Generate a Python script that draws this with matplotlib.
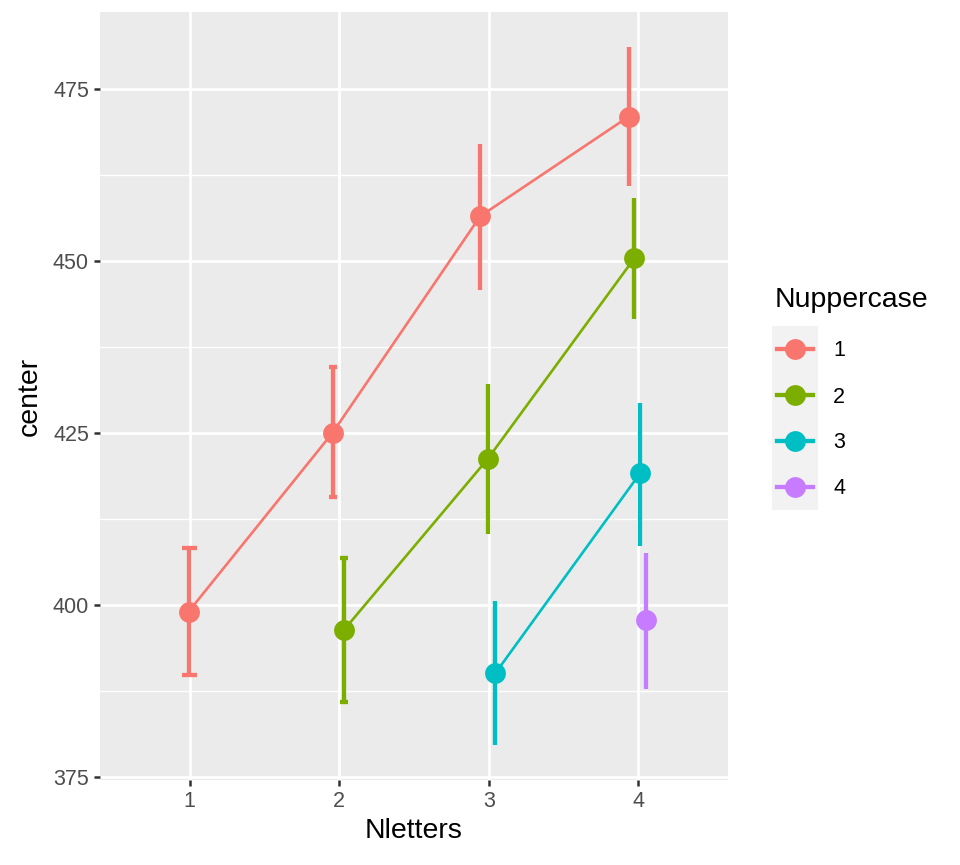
import matplotlib.pyplot as plt
from matplotlib.lines import Line2D

plt.switch_backend("AGG")
plt.rcParams["font.family"] = ["Liberation Sans", "DejaVu Sans"]

# data
nletters = [1, 2, 3, 4]
groups = ["1", "2", "3", "4"]
colors = ["#F8766D", "#7CAE00", "#00BFC4", "#C77CFF"]

series_x = {
    "1": [1, 2, 3, 4],
    "2": [2, 3, 4],
    "3": [3, 4],
    "4": [4],
}
series_center = {
    "1": [399.0, 425.0, 456.5, 471.0],
    "2": [396.3, 421.2, 450.4],
    "3": [390.0, 419.1],
    "4": [397.7],
}
series_low = {
    "1": [389.8, 415.6, 445.8, 460.9],
    "2": [385.8, 410.3, 441.5],
    "3": [379.6, 408.5],
    "4": [387.8],
}
series_high = {
    "1": [408.2, 434.5, 467.0, 481.1],
    "2": [406.8, 432.1, 459.1],
    "3": [400.5, 429.4],
    "4": [407.5],
}

DODGE = 0.15
GRID_BG = "#EBEBEB"


def dodge_offsets():
    # ggplot-like dodge: groups present at each x share the dodge width
    present = {x: [g for g in groups if x in series_x[g]] for x in nletters}
    out = {}
    for g in groups:
        offs = []
        for x in series_x[g]:
            n = len(present[x])
            i = present[x].index(g)
            offs.append((i - (n - 1) / 2) * DODGE / n if n > 1 else 0.0)
        out[g] = offs
    return out, present


fig = plt.figure(figsize=(9.6, 8.65), dpi=100)
ax = fig.add_axes([100 / 960, 1 - 780 / 865, 628 / 960, 768 / 865])
ax.set_facecolor(GRID_BG)
for s in ax.spines.values():
    s.set_visible(False)

offsets, present = dodge_offsets()
for g, c in zip(groups, colors):
    xs = [x + o - 0.007 for x, o in zip(series_x[g], offsets[g])]
    ys = series_center[g]
    ax.plot(xs, ys, color=c, lw=1.9, zorder=3, solid_capstyle="butt")
    for x0, xd, lo, hi in zip(series_x[g], xs, series_low[g], series_high[g]):
        n = len(present[x0])
        # caps shrink as more groups get dodged into the same slot
        cap = {1: 5.4, 2: 2.8}.get(n, 0)
        ax.errorbar([xd], [(lo + hi) / 2], yerr=[[(hi - lo) / 2], [(hi - lo) / 2]],
                    fmt="none", ecolor=c, elinewidth=3.1, capsize=cap, capthick=3.1, zorder=4)
    ax.plot(xs, ys, "o", color=c, ms=15, zorder=5, mec="none")

ax.set_xlim(0.4, 4.6)
ax.set_ylim(374.5, 486.2)
ax.set_xticks(nletters)
ax.set_xticklabels([str(v) for v in nletters])
ax.set_yticks([375, 400, 425, 450, 475])
ax.set_yticks([387.5, 412.5, 437.5, 462.5], minor=True)
ax.grid(True, which="major", color="white", lw=2.0, zorder=0)
ax.grid(True, which="minor", axis="y", color="white", lw=1.0, zorder=0)
ax.set_axisbelow(True)
ax.tick_params(axis="both", which="major", length=4.5, width=1.8, color="#333333",
               labelcolor="#4D4D4D", labelsize=15.5, pad=3.5)
ax.tick_params(axis="both", which="minor", length=0)
ax.set_xlabel("Nletters", fontsize=20.5, color="black", labelpad=4)
ax.set_ylabel("center", fontsize=20.5, color="black", labelpad=7)

# legend
fig.text(775 / 960, 1 - 300 / 865, "Nuppercase", fontsize=20.5, va="center", ha="left")
lax = fig.add_axes([772 / 960, 1 - 510 / 865, 46 / 960, 184 / 865])
lax.set_facecolor("#F2F2F2")
lax.set_xlim(0, 46)
lax.set_ylim(184, 0)
lax.set_xticks([])
lax.set_yticks([])
for s in lax.spines.values():
    s.set_visible(False)
for i, (g, c) in enumerate(zip(groups, colors)):
    yk = 23 + 46 * i
    lax.add_line(Line2D([5, 41], [yk, yk], color=c, lw=3.1))
    lax.add_line(Line2D([23], [yk], marker="o", color=c, ms=15, mec="none"))
    fig.text(833 / 960, 1 - (326 + yk + 2) / 865, g, fontsize=15.5, va="center", ha="left")

fig.savefig("out.png", dpi=100)
